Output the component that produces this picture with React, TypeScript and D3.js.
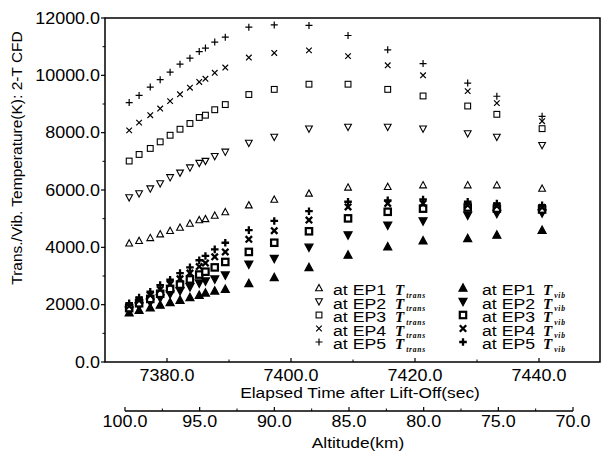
import React from "react";
import * as d3 from "d3";

const times = [7373.9, 7375.5, 7377.3, 7378.9, 7380.5, 7382.1, 7383.7, 7385.2, 7386.2, 7387.7, 7389.4, 7393.2, 7397.3, 7402.9, 7409.2, 7415.6, 7421.3, 7428.5, 7433.2, 7440.5];

const ep1Trans = [4140, 4230, 4330, 4460, 4580, 4690, 4830, 4950, 4990, 5110, 5230, 5470, 5670, 5880, 6090, 6110, 6170, 6170, 6170, 6050];
const ep2Trans = [5740, 5880, 6050, 6230, 6440, 6600, 6780, 6940, 7010, 7180, 7330, 7640, 7850, 8140, 8200, 8200, 8140, 7970, 7850, 7560];
const ep3Trans = [7010, 7240, 7450, 7680, 7910, 8120, 8320, 8530, 8610, 8800, 8980, 9330, 9510, 9690, 9690, 9510, 9280, 8930, 8640, 8140];
const ep4Trans = [8080, 8350, 8610, 8840, 9100, 9340, 9570, 9770, 9880, 10090, 10270, 10620, 10780, 10870, 10670, 10350, 10000, 9450, 9030, 8400];
const ep5Trans = [9050, 9300, 9590, 9850, 10110, 10390, 10600, 10830, 10950, 11160, 11330, 11680, 11760, 11740, 11390, 10890, 10410, 9730, 9270, 8570];

const ep1Vib = [1720, 1810, 1890, 1990, 2080, 2160, 2250, 2330, 2410, 2480, 2540, 2740, 2950, 3300, 3730, 4020, 4230, 4310, 4430, 4600];
const ep2Vib = [1800, 1950, 2080, 2230, 2370, 2480, 2620, 2750, 2820, 2890, 3030, 3410, 3610, 4000, 4430, 4770, 4920, 5120, 5180, 5200];
const ep3Vib = [1880, 2050, 2200, 2380, 2550, 2700, 2880, 3050, 3150, 3300, 3490, 3840, 4160, 4560, 5010, 5240, 5350, 5390, 5350, 5320];
const ep4Vib = [1950, 2150, 2330, 2530, 2720, 2900, 3100, 3330, 3450, 3670, 3840, 4280, 4580, 4950, 5410, 5530, 5530, 5470, 5440, 5390];
const ep5Vib = [2050, 2250, 2450, 2680, 2870, 3100, 3300, 3550, 3700, 3930, 4160, 4600, 4920, 5260, 5590, 5640, 5670, 5590, 5530, 5470];

const yTicks = [0, 2000, 4000, 6000, 8000, 10000, 12000];
const yMinor = [1000, 3000, 5000, 7000, 9000, 11000];
const xTicks = [7380, 7400, 7420, 7440];
const xMinor = [7390, 7410, 7430];
const altTicks = [100, 95, 90, 85, 80, 75, 70];
const altMinor = [97.5, 92.5, 87.5, 82.5, 77.5, 72.5];

const epLabels = ["EP1", "EP2", "EP3", "EP4", "EP5"];
const shapes = ["up", "down", "square", "x", "plus"];
const transSeries = [ep1Trans, ep2Trans, ep3Trans, ep4Trans, ep5Trans];
const vibSeries = [ep1Vib, ep2Vib, ep3Vib, ep4Vib, ep5Vib];

const FONT = "'Liberation Sans', Arial, Helvetica, sans-serif";
const SERIF = "'Liberation Serif', 'Times New Roman', serif";

function Txt({ x, y, anchor = "middle", size = 16, sx = 1.12, children }: any) {
  return (
    <g transform={`translate(${x},${y}) scale(${sx},1)`}>
      <text x={0} y={0} textAnchor={anchor} fontFamily={FONT} fontSize={size} fill="#000">
        {children}
      </text>
    </g>
  );
}

function Marker({ shape, cx, cy, filled }: any) {
  const s = filled ? 4 : 3.4;
  const sw = filled ? 1.2 : 1.1;
  const fill = filled ? "#000" : "#fff";
  if (shape === "up") {
    const d = `M${cx},${cy - s * 1.05}L${cx + s},${cy + s * 0.8}L${cx - s},${cy + s * 0.8}Z`;
    return <path d={d} fill={fill} stroke="#000" strokeWidth={sw} />;
  }
  if (shape === "down") {
    const d = `M${cx},${cy + s * 1.05}L${cx + s},${cy - s * 0.8}L${cx - s},${cy - s * 0.8}Z`;
    return <path d={d} fill={fill} stroke="#000" strokeWidth={sw} />;
  }
  if (shape === "square") {
    const a = filled ? 3.2 : 2.9;
    return (
      <rect x={cx - a} y={cy - a} width={2 * a} height={2 * a} fill="#fff" stroke="#000" strokeWidth={filled ? 2.2 : 1.1} />
    );
  }
  if (shape === "x") {
    const a = filled ? 3.2 : 2.8;
    return (
      <path d={`M${cx - a},${cy - a}L${cx + a},${cy + a}M${cx - a},${cy + a}L${cx + a},${cy - a}`} stroke="#000" strokeWidth={filled ? 2.3 : 1.2} />
    );
  }
  const a = filled ? 3.8 : 3.5;
  return (
    <path d={`M${cx - a},${cy}L${cx + a},${cy}M${cx},${cy - a}L${cx},${cy + a}`} stroke="#000" strokeWidth={filled ? 2.3 : 1.2} />
  );
}

export default function App() {
  const W = 603, H = 455;
  const x = d3.scaleLinear().domain([7370, 7450]).range([105, 601]);
  const y = d3.scaleLinear().domain([0, 12000]).range([362, 18]);
  const alt = d3.scaleLinear().domain([100, 70]).range([125, 573]);
  const [x0, x1] = x.range();
  const [y0, y1] = y.range();
  const altY = 411;

  const legendRows = [290, 303.5, 317, 330.5, 344];

  return (
    <svg width={W} height={H} style={{ position: "absolute", left: 0, top: 0, background: "#fff" }}>
      <rect x={0} y={0} width={W} height={H} fill="#fff" />
      <rect x={x0} y={y1} width={x1 - x0 - 1} height={y0 - y1} fill="none" stroke="#000" strokeWidth={1.5} />

      {yTicks.map((t) => (
        <g key={"yt" + t}>
          <line x1={x0 - 4} x2={x0} y1={y(t)} y2={y(t)} stroke="#000" strokeWidth={1.2} />
          <Txt x={100} y={y(t) + 5.5} anchor="end">{d3.format(".1f")(t)}</Txt>
        </g>
      ))}
      {yMinor.map((t) => (
        <line key={"ym" + t} x1={x0 - 2.5} x2={x0} y1={y(t)} y2={y(t)} stroke="#000" strokeWidth={1} />
      ))}

      {xTicks.map((t) => (
        <g key={"xt" + t}>
          <line x1={x(t)} x2={x(t)} y1={y0} y2={y0 - 4} stroke="#000" strokeWidth={1.2} />
          <Txt x={x(t)} y={381}>{d3.format(".1f")(t)}</Txt>
        </g>
      ))}
      {xMinor.map((t) => (
        <line key={"xm" + t} x1={x(t)} x2={x(t)} y1={y0} y2={y0 - 2.5} stroke="#000" strokeWidth={1} />
      ))}
      <Txt x={360} y={398} size={15.5}>Elapsed Time after Lift-Off(sec)</Txt>

      <line x1={alt(100)} x2={alt(70)} y1={altY} y2={altY} stroke="#000" strokeWidth={1.5} />
      {altTicks.map((t) => (
        <g key={"at" + t}>
          <line x1={alt(t)} x2={alt(t)} y1={altY} y2={altY - 4} stroke="#000" strokeWidth={1.2} />
          <Txt x={alt(t)} y={427}>{d3.format(".1f")(t)}</Txt>
        </g>
      ))}
      {altMinor.map((t) => (
        <line key={"am" + t} x1={alt(t)} x2={alt(t)} y1={altY} y2={altY - 2.5} stroke="#000" strokeWidth={1} />
      ))}
      <Txt x={358} y={448} size={15.5}>Altitude(km)</Txt>

      <text transform={`translate(22,${158}) rotate(-90)`} textAnchor="middle" fontFamily={FONT} fontSize={15.5} fill="#000">
        Trans./Vib. Temperature(K): 2-T CFD
      </text>

      {transSeries.map((s, i) =>
        s.map((v, j) => <Marker key={`t${i}-${j}`} shape={shapes[i]} cx={x(times[j])} cy={y(v)} filled={false} />)
      )}
      {vibSeries.map((s, i) =>
        s.map((v, j) => <Marker key={`v${i}-${j}`} shape={shapes[i]} cx={x(times[j])} cy={y(v)} filled={true} />)
      )}

      {epLabels.map((lab, i) => (
        <g key={"lg" + i}>
          <Marker shape={shapes[i]} cx={319} cy={legendRows[i] - 2} filled={false} />
          <Txt x={333} y={legendRows[i] + 5} anchor="start" size={14.5} sx={1.22}>{`at ${lab}`}</Txt>
          <text x={395} y={legendRows[i] + 5} fontFamily={SERIF} fontStyle="italic" fontWeight="bold" fontSize={15} fill="#000">
            T<tspan dx={2} dy={2.5} fontSize={7.5} letterSpacing={0.8}>trans</tspan>
          </text>
          <Marker shape={shapes[i]} cx={463} cy={legendRows[i] - 2} filled={true} />
          <Txt x={482} y={legendRows[i] + 5} anchor="start" size={14.5} sx={1.22}>{`at ${lab}`}</Txt>
          <text x={543} y={legendRows[i] + 5} fontFamily={SERIF} fontStyle="italic" fontWeight="bold" fontSize={15} fill="#000">
            T<tspan dx={2} dy={2.5} fontSize={7.5} letterSpacing={0.8}>vib</tspan>
          </text>
        </g>
      ))}
    </svg>
  );
}
